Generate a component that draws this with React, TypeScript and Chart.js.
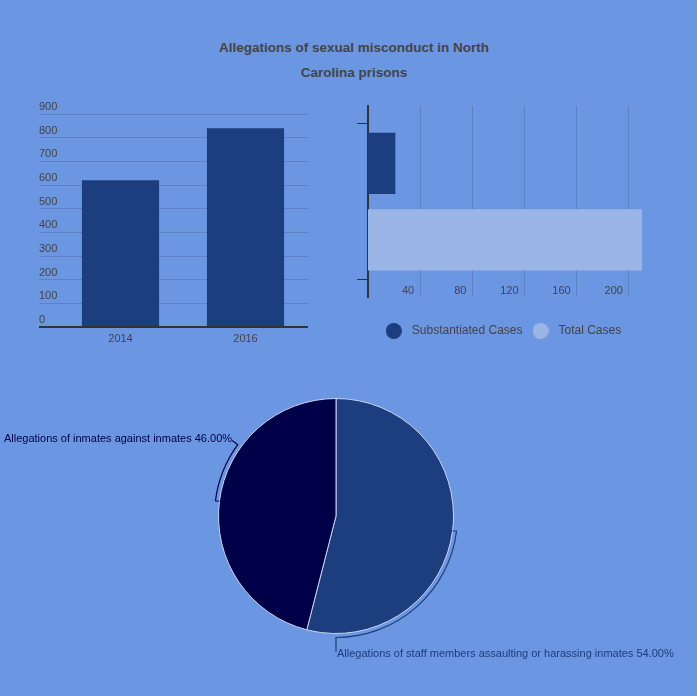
import React, { useEffect, useRef } from 'react';
import { Chart, registerables } from 'chart.js';
Chart.register(...registerables);

// ---------- data ----------
const TITLE_LINES = ['Allegations of sexual misconduct in North', 'Carolina prisons'];

const YEARS = ['2014', '2016'];
const ALLEGATIONS = [620, 840];
const ALLEGATION_MAX = 900;
const ALLEGATION_STEP = 100;

const CASE_SERIES = ['Substantiated Cases', 'Total Cases'];
const CASE_VALUES = [21, 210];
const CASE_MAX = 220;
const CASE_STEP = 40;

const PIE_LABELS = [
  'Allegations of staff members assaulting or harassing inmates',
  'Allegations of inmates against inmates',
];
const PIE_VALUES = [54, 46];

// ---------- style ----------
const BG = '#6B96E2';
const DARK = '#1C3D7E';
const LIGHT = '#9BB5E6';
const NAVY = '#000048';
const GRID = '#5B80C6';
const TEXT = '#444444';
const AXIS = '#333333';
const FONT = 'Arial, "Liberation Sans", sans-serif';

const CASE_COLORS = [DARK, LIGHT];
const PIE_COLORS = [DARK, NAVY];
// leader layout per slice: end angle (deg, chart.js convention), leader length, text align, text offsets
const PIE_LEADERS = [
  { endDeg: 90, length: 14, align: 'left', dx: 1, dy: 2 },
  { endDeg: 216, length: 7, align: 'right', dx: 0, dy: -2 },
];

Chart.defaults.font.family = FONT;

function makeDot(color: string) {
  const c = document.createElement('canvas');
  c.width = 16;
  c.height = 16;
  const g = c.getContext('2d')!;
  g.fillStyle = color;
  g.beginPath();
  g.arc(8, 8, 8, 0, Math.PI * 2);
  g.fill();
  return c;
}

const pieLabelPlugin = {
  id: 'pieLabels',
  afterDatasetsDraw(chart: any) {
    const meta = chart.getDatasetMeta(0);
    const ctx = chart.ctx;
    const data: number[] = chart.data.datasets[0].data;
    const total = data.reduce((a, b) => a + b, 0);
    meta.data.forEach((arc: any, i: number) => {
      const { x, y, startAngle, endAngle, outerRadius } = arc.getProps(
        ['x', 'y', 'startAngle', 'endAngle', 'outerRadius'],
        true
      );
      const cfg = PIE_LEADERS[i];
      const color = PIE_COLORS[i];
      const mid = (startAngle + endAngle) / 2;
      const rb = outerRadius + 4;
      const end = (cfg.endDeg * Math.PI) / 180;
      ctx.save();
      ctx.strokeStyle = color;
      ctx.lineWidth = 1.2;
      ctx.beginPath();
      ctx.moveTo(x + outerRadius * Math.cos(mid), y + outerRadius * Math.sin(mid));
      ctx.lineTo(x + rb * Math.cos(mid), y + rb * Math.sin(mid));
      ctx.arc(x, y, rb, mid, end, end < mid);
      const ex = x + (rb + cfg.length) * Math.cos(end);
      const ey = y + (rb + cfg.length) * Math.sin(end);
      ctx.lineTo(ex, ey);
      ctx.stroke();
      const pct = ((data[i] / total) * 100).toFixed(2);
      ctx.fillStyle = color;
      ctx.font = '11px ' + FONT;
      ctx.textAlign = cfg.align;
      ctx.textBaseline = 'middle';
      ctx.fillText(`${chart.data.labels[i]} ${pct}%`, ex + cfg.dx, ey + cfg.dy);
      ctx.restore();
    });
  },
};

function makeAllegations(canvas: HTMLCanvasElement) {
  return new Chart(canvas, {
    type: 'bar',
    data: {
      labels: YEARS,
      datasets: [
        {
          data: ALLEGATIONS,
          backgroundColor: DARK,
          barPercentage: 0.617,
          categoryPercentage: 1,
        },
      ],
    },
    options: {
      responsive: false,
      animation: false,
      layout: { padding: { top: 14, left: 0, right: 0, bottom: 0 } },
      plugins: { legend: { display: false }, tooltip: { enabled: false } },
      scales: {
        x: {
          z: 1,
          grid: { display: false, drawTicks: false },
          border: { display: true, color: AXIS, width: 2 },
          ticks: { color: TEXT, font: { size: 11, family: FONT }, padding: 5 },
          afterFit: (s: any) => {
            s.height = 23;
          },
        },
        y: {
          min: 0,
          max: ALLEGATION_MAX,
          ticks: {
            stepSize: ALLEGATION_STEP,
            color: TEXT,
            font: { size: 11, family: FONT },
            crossAlign: 'far',
            labelOffset: -7,
            padding: 0,
          },
          grid: {
            color: (c: any) => (c.tick && c.tick.value === 0 ? AXIS : GRID),
            lineWidth: (c: any) => (c.tick && c.tick.value === 0 ? 2 : 1),
            drawTicks: true,
            tickLength: 19,
          },
          border: { display: false },
          afterFit: (s: any) => {
            s.width = 19;
          },
        },
      },
    } as any,
  });
}

function makeCases(canvas: HTMLCanvasElement) {
  return new Chart(canvas, {
    type: 'bar',
    data: {
      labels: [''],
      datasets: CASE_SERIES.map((name, i) => ({
        label: name,
        data: [CASE_VALUES[i]],
        backgroundColor: CASE_COLORS[i],
        barPercentage: 0.8,
        categoryPercentage: 0.8,
        xAxisID: 'x',
        yAxisID: 'y',
      })),
    },
    options: {
      indexAxis: 'y',
      responsive: false,
      animation: false,
      layout: { padding: { top: 10, left: 0, right: 0, bottom: 0 } },
      plugins: {
        tooltip: { enabled: false },
        legend: {
          position: 'bottom',
          labels: {
            font: { size: 12, family: FONT },
            color: TEXT,
            usePointStyle: true,
            pointStyleWidth: 24,
            padding: 6,
            generateLabels: (chart: any) => {
              const items = (Chart.defaults.plugins.legend.labels as any).generateLabels(chart);
              items.forEach((it: any, i: number) => {
                it.pointStyle = makeDot(CASE_COLORS[i]);
              });
              return items;
            },
          },
        },
      },
      scales: {
        x: {
          type: 'linear',
          position: 'bottom',
          min: 0,
          max: CASE_MAX,
          afterBuildTicks: (s: any) => {
            s.ticks = s.ticks.filter((t: any) => t.value > 0 && t.value % CASE_STEP === 0);
          },
          ticks: {
            stepSize: CASE_STEP,
            includeBounds: false,
            mirror: true,
            align: 'end',
            labelOffset: -6,
            padding: 0,
            color: TEXT,
            font: { size: 11, family: FONT },
            autoSkip: false,
            maxRotation: 0,
          },
          grid: { color: GRID, drawTicks: false },
          border: { display: false },
          afterFit: (s: any) => {
            s.height = 21.7;
          },
        },
        y: {
          type: 'category',
          display: false,
          grid: { display: false, drawTicks: false },
          ticks: { display: false },
          border: { display: false },
        },
        y2: {
          type: 'linear',
          position: 'left',
          offset: false,
          min: 0,
          max: 11,
          afterBuildTicks: (s: any) => {
            s.ticks = [{ value: 1 }, { value: 10 }];
          },
          ticks: { display: false },
          grid: {
            offset: false,
            drawOnChartArea: false,
            drawTicks: true,
            tickLength: 11,
            color: AXIS,
          },
          border: { display: true, color: AXIS, width: 2 },
          afterFit: (s: any) => {
            s.width = 20;
          },
        },
      },
    } as any,
  });
}

function makePie(canvas: HTMLCanvasElement) {
  return new Chart(canvas, {
    type: 'pie',
    data: {
      labels: PIE_LABELS,
      datasets: [
        {
          data: PIE_VALUES,
          backgroundColor: PIE_COLORS,
          borderColor: '#C9D3EE',
          borderWidth: 1,
          hoverOffset: 0,
        },
      ],
    },
    options: {
      responsive: false,
      animation: false,
      layout: { padding: { left: 100, right: 125, top: 18, bottom: 46 } },
      plugins: { legend: { display: false }, tooltip: { enabled: false } },
    } as any,
    plugins: [pieLabelPlugin as any],
  });
}

function ChartCanvas(props: {
  left: number;
  top: number;
  width: number;
  height: number;
  make: (c: HTMLCanvasElement) => Chart;
}) {
  const ref = useRef<HTMLCanvasElement>(null);
  useEffect(() => {
    const chart = props.make(ref.current!);
    return () => chart.destroy();
  }, []);
  return (
    <canvas
      ref={ref}
      width={props.width}
      height={props.height}
      style={{
        position: 'absolute',
        left: props.left,
        top: props.top,
        width: props.width,
        height: props.height,
      }}
    />
  );
}

export default function App() {
  return (
    <div
      style={{
        position: 'absolute',
        left: 0,
        top: 0,
        width: 697,
        height: 696,
        background: BG,
        overflow: 'hidden',
      }}
    >
      <div
        style={{
          position: 'absolute',
          left: 0,
          top: 35,
          width: 708,
          textAlign: 'center',
          fontFamily: FONT,
          fontWeight: 'bold',
          fontSize: 13.5,
          lineHeight: '25px',
          color: TEXT,
        }}
      >
        {TITLE_LINES.map((l) => (
          <div key={l}>{l}</div>
        ))}
      </div>
      <ChartCanvas left={39} top={100} width={269} height={250} make={makeAllegations} />
      <ChartCanvas left={348} top={96} width={307} height={251} make={makeCases} />
      <ChartCanvas left={0} top={380} width={697} height={300} make={makePie} />
    </div>
  );
}
